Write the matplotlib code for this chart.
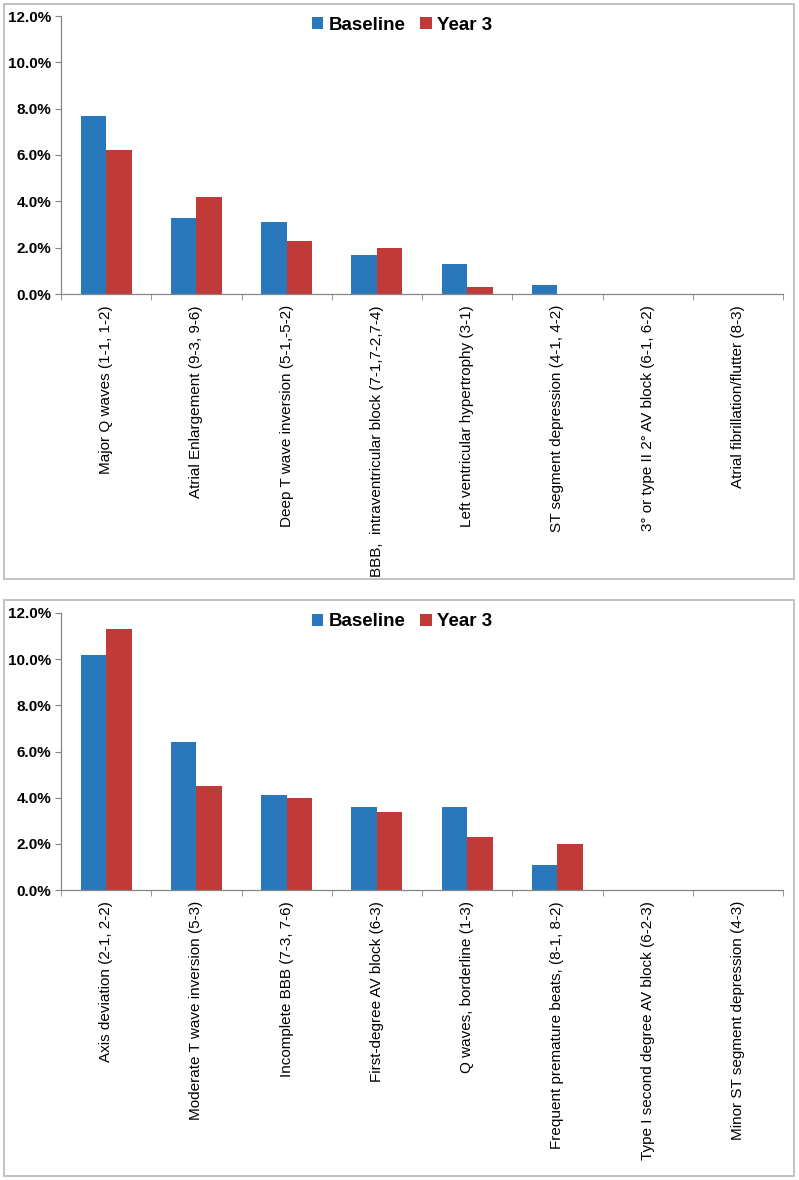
import numpy as np
import matplotlib
matplotlib.use("Agg")
import matplotlib.pyplot as plt
from matplotlib.patches import Rectangle
from matplotlib.ticker import PercentFormatter

# ======================================
# Data (percent of participants)
# ======================================
cat_major = [
    "Major Q waves (1-1, 1-2)",
    "Atrial Enlargement (9-3, 9-6)",
    "Deep T wave inversion (5-1,-5-2)",
    "BBB,  intraventricular block (7-1,7-2,7-4)",
    "Left ventricular hypertrophy (3-1)",
    "ST segment depression (4-1, 4-2)",
    "3° or type II 2° AV block (6-1, 6-2)",
    "Atrial fibrillation/flutter (8-3)",
]
baseline_major = [7.7, 3.3, 3.1, 1.7, 1.3, 0.4, 0.0, 0.0]
year3_major = [6.2, 4.2, 2.3, 2.0, 0.3, 0.0, 0.0, 0.0]

cat_minor = [
    "Axis deviation (2-1, 2-2)",
    "Moderate T wave inversion (5-3)",
    "Incomplete BBB (7-3, 7-6)",
    "First-degree AV block (6-3)",
    "Q waves, borderline (1-3)",
    "Frequent premature beats, (8-1, 8-2)",
    "Type I second degree AV block (6-2-3)",
    "Minor ST segment depression (4-3)",
]
baseline_minor = [10.2, 6.4, 4.1, 3.6, 3.6, 1.1, 0.0, 0.0]
year3_minor = [11.3, 4.5, 4.0, 3.4, 2.3, 2.0, 0.0, 0.0]

series_labels = ["Baseline", "Year 3"]
colors = ["#2a78bc", "#c03a37"]

plt.rcParams['font.family'] = ['Liberation Sans', 'DejaVu Sans']

W, H = 799, 1180
fig = plt.figure(figsize=(W / 100, H / 100), dpi=100)


def panel(box, ax_px, cats, base, yr3, legend_y):
    # gray frame around the panel
    x0, y0, x1, y1 = box
    fig.add_artist(Rectangle((x0 / W, 1 - y1 / H), (x1 - x0) / W, (y1 - y0) / H,
                             transform=fig.transFigure, fill=False,
                             edgecolor="#bdbdbd", linewidth=1.3))
    l, t, r, b = ax_px
    ax = fig.add_axes([l / W, 1 - b / H, (r - l) / W, (b - t) / H])
    x = np.arange(len(cats))
    w = 0.283
    ax.bar(x - w / 2, base, w, color=colors[0], label=series_labels[0])
    ax.bar(x + w / 2, yr3, w, color=colors[1], label=series_labels[1])
    ax.set_xlim(-0.5, len(cats) - 0.5)
    ax.set_ylim(0, 12)
    ax.set_yticks(np.arange(0, 12.1, 2))
    ax.yaxis.set_major_formatter(PercentFormatter(decimals=1))
    for lab in ax.get_yticklabels():
        lab.set_fontweight("bold")
    ax.tick_params(axis="y", labelsize=11, direction="out", length=4,
                   color="#868686", pad=3)
    ax.set_xticks(x)
    ax.set_xticklabels(cats, rotation=90, fontsize=11, va="top")
    ax.tick_params(axis="x", which="major", length=0, pad=8)
    ax.set_xticks(np.arange(-0.5, len(cats)), minor=True)
    ax.tick_params(axis="x", which="minor", direction="out", length=4, color="#868686")
    for s in ["top", "right"]:
        ax.spines[s].set_visible(False)
    for s in ["left", "bottom"]:
        ax.spines[s].set_color("#868686")
        ax.spines[s].set_linewidth(0.9)
    fig.legend(handles=ax.patches[:1] + ax.patches[len(cats):len(cats) + 1],
               labels=series_labels, loc="center",
               bbox_to_anchor=(402 / W, 1 - legend_y / H), ncol=2, frameon=False,
               prop={"weight": "bold", "size": 13.5}, handlelength=0.6,
               handleheight=0.6, handletextpad=0.3, columnspacing=0.8)
    return ax


panel((4, 4, 794, 579), (61, 16, 783, 294), cat_major, baseline_major, year3_major, 25)
panel((4, 600, 794, 1176), (61, 613, 783, 890), cat_minor, baseline_minor, year3_minor, 622)

fig.savefig("out.png", dpi=100)
